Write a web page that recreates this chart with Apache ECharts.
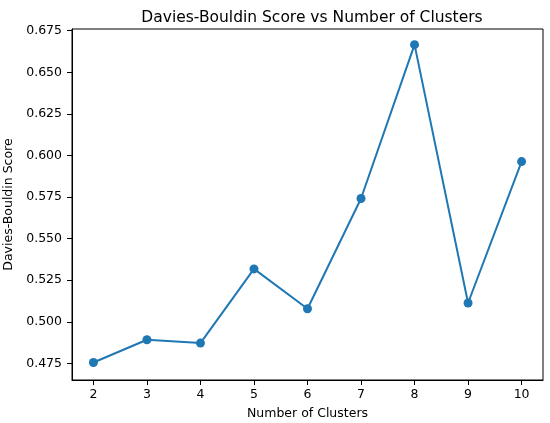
<!DOCTYPE html>
<html>
<head>
<meta charset="utf-8">
<script src="https://cdn.jsdelivr.net/npm/echarts@6/dist/echarts.min.js"></script>
<style>
  html, body { margin: 0; padding: 0; background: #fff; }
  #chart { width: 550px; height: 423px; }
</style>
</head>
<body>
<div id="chart"></div>
<script>
// data
const clusters = [2, 3, 4, 5, 6, 7, 8, 9, 10];
const scores = [0.4755, 0.4892, 0.4872, 0.5318, 0.5078, 0.5741, 0.6666, 0.5113, 0.5963];
const xTicks = [2, 3, 4, 5, 6, 7, 8, 9, 10];
const yTicks = [0.475, 0.5, 0.525, 0.55, 0.575, 0.6, 0.625, 0.65, 0.675];

const font = "DejaVu Sans";
const chart = echarts.init(document.getElementById("chart"));

const option = {
  animation: false,
  backgroundColor: "#fff",
  title: {
    text: "Davies-Bouldin Score vs Number of Clusters",
    left: 307,
    textAlign: "center",
    top: 5,
    textStyle: { fontFamily: font, fontSize: 15.5, fontWeight: "normal", color: "#000" }
  },
  grid: {
    left: 72, right: 7, top: 29, bottom: 43,
    outerBoundsMode: "none",
    containLabel: false,
    show: true, borderColor: "#000", borderWidth: 1
  },
  xAxis: {
    type: "value",
    min: 1.6,
    max: 10.4,
    name: "Number of Clusters",
    nameLocation: "middle",
    nameGap: 27,
    nameTextStyle: { fontFamily: font, fontSize: 12.5, color: "#000" },
    axisLine: { show: true, lineStyle: { color: "#000", width: 1 } },
    axisTick: { show: true, length: 5, inside: false, customValues: xTicks, lineStyle: { color: "#000" } },
    axisLabel: {
      customValues: xTicks, margin: 8,
      fontFamily: font, fontSize: 12.5, color: "#000",
      formatter: v => String(v)
    },
    splitLine: { show: false }
  },
  yAxis: {
    type: "value",
    min: 0.465,
    max: 0.676,
    name: "Davies-Bouldin Score",
    nameLocation: "middle",
    nameGap: 47,
    nameTextStyle: { fontFamily: font, fontSize: 12.5, color: "#000" },
    axisLine: { show: true, lineStyle: { color: "#000", width: 1 } },
    axisTick: { show: true, length: 5, inside: false, customValues: yTicks, lineStyle: { color: "#000" } },
    axisLabel: {
      customValues: yTicks, margin: 10,
      fontFamily: font, fontSize: 12.5, color: "#000",
      formatter: v => v.toFixed(3)
    },
    splitLine: { show: false }
  },
  series: [
    {
      type: "line",
      data: clusters.map((c, i) => [c, scores[i]]),
      symbol: "circle",
      symbolSize: 9,
      clip: false,
      lineStyle: { color: "#1f77b4", width: 2 },
      itemStyle: { color: "#1f77b4" }
    }
  ]
};
chart.setOption(option);
</script>
</body>
</html>
